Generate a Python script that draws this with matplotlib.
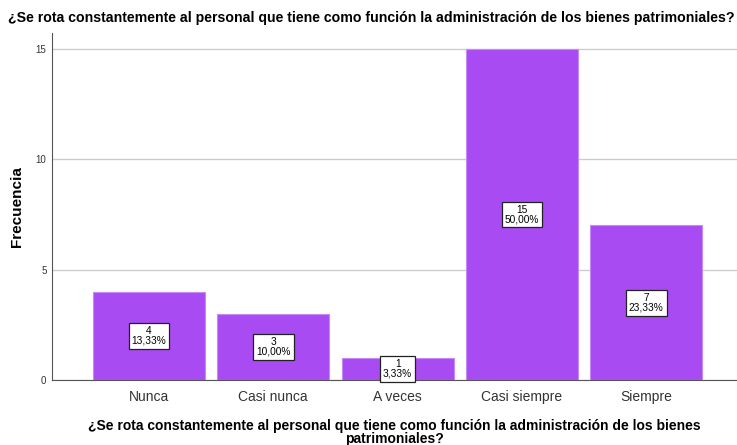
import matplotlib.pyplot as plt
from matplotlib import font_manager

categorias = ["Nunca", "Casi nunca", "A veces", "Casi siempre", "Siempre"]
frecuencias = [4, 3, 1, 15, 7]
porcentajes = ["13,33%", "10,00%", "3,33%", "50,00%", "23,33%"]

titulo = "¿Se rota constantemente al personal que tiene como función la administración de los bienes patrimoniales?"
etiqueta_x = "¿Se rota constantemente al personal que tiene como función la administración de los bienes\npatrimoniales?"

nombres = {f.name for f in font_manager.fontManager.ttflist}
narrow = "Liberation Sans Narrow" if "Liberation Sans Narrow" in nombres else "Liberation Sans"
plt.rcParams["font.family"] = ["Liberation Sans", "DejaVu Sans"]

fig = plt.figure(figsize=(7.37, 4.45), dpi=100)
ax = fig.add_axes([52 / 737, 1 - 380 / 445, (737 - 52) / 737, (380 - 33) / 445])

x = range(len(categorias))
ax.bar(x, frecuencias, width=0.9, color="#A94BF2", edgecolor="#C58AF6", linewidth=0.8, zorder=3)

for i, (v, p) in enumerate(zip(frecuencias, porcentajes)):
    ax.text(i, v / 2, f"{v}\n{p}", ha="center", va="center", fontsize=7.3, linespacing=0.95,
            bbox=dict(boxstyle="square,pad=0.3", facecolor="white", edgecolor="#222222", linewidth=0.9),
            zorder=4)

ax.set_xlim(-0.78, 4.73)
ax.set_ylim(0, 15.72)
ax.set_yticks([0, 5, 10, 15])
ax.set_xticks(list(x))
ax.set_xticklabels(categorias, fontsize=10, color="#333333")
ax.tick_params(axis="x", length=0, pad=7)
ax.tick_params(axis="y", length=0, labelsize=7, colors="#333333", pad=4)
ax.grid(axis="y", color="#cccccc", linewidth=1, zorder=0)
for s in ["top", "right"]:
    ax.spines[s].set_visible(False)
ax.spines["left"].set_color("#555555")
ax.spines["bottom"].set_color("#555555")

ax.set_ylabel("Frecuencia", fontsize=11, fontweight="bold", va="center")
ax.yaxis.set_label_coords(-(52 - 17) / 685, 0.5)
ax.set_xlabel(etiqueta_x, fontsize=10, fontweight="bold", linespacing=0.95)
ax.xaxis.set_label_coords(0.5, -(419 - 380) / 347)
fig.text(8 / 737, 1 - 18 / 445, titulo, fontsize=10.2, fontweight="bold", family=narrow,
         ha="left", va="center")

fig.savefig("out.png", dpi=100)
